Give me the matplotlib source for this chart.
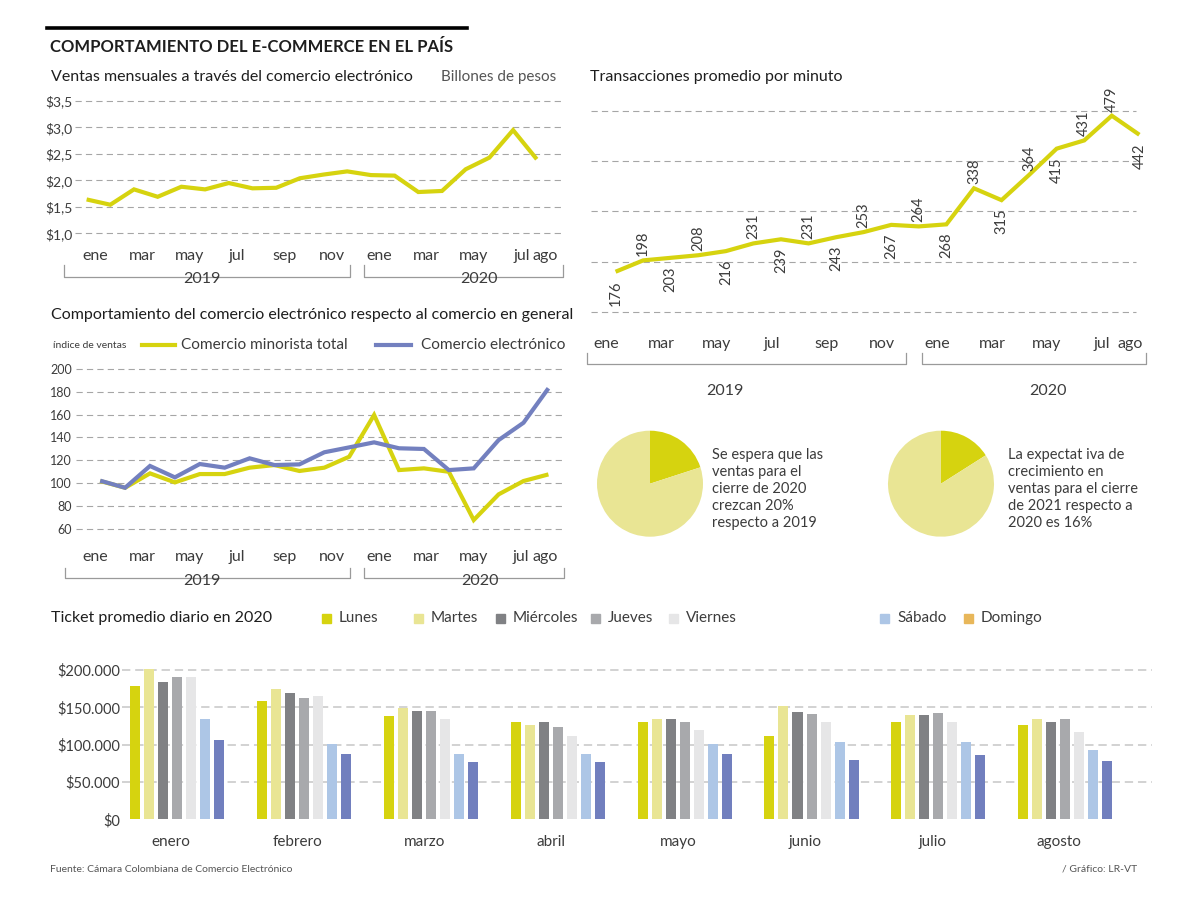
import numpy as np
import matplotlib

matplotlib.use("Agg")
import matplotlib.pyplot as plt
from matplotlib.lines import Line2D
from matplotlib.patches import Rectangle

W, H = 1200, 897

# ---------------- data ----------------
month_labels = ["ene", "mar", "may", "jul", "sep", "nov", "ene", "mar", "may", "jul", "ago"]
month_label_idx = [0, 2, 4, 6, 8, 10, 12, 14, 16, 18, 19]

# Ventas mensuales (billones de pesos), ene 2019 - ago 2020
ventas = [1.64, 1.54, 1.83, 1.69, 1.88, 1.83, 1.95, 1.85, 1.86, 2.04,
          2.11, 2.17, 2.10, 2.09, 1.78, 1.80, 2.21, 2.43, 2.95, 2.40]
ventas_ticks = [1.0, 1.5, 2.0, 2.5, 3.0, 3.5]

# Transacciones promedio por minuto
transacciones = [176, 198, 203, 208, 216, 231, 239, 231, 243, 253,
                 267, 264, 268, 338, 315, 364, 415, 431, 479, 442]
label_above = [False, True, False, True, False, True, False, True, False, True,
               False, True, False, True, False, True, False, True, True, False]

# Indice de ventas
minorista = [101.8, 95.9, 108.5, 100.6, 107.9, 107.9, 113.5, 115.8, 110.6, 113.5,
             123.1, 159.7, 111.4, 112.9, 109.9, 67.6, 90.1, 101.8, 107.6]
electronico = [102.1, 95.9, 115.0, 105.0, 116.7, 113.5, 121.7, 115.8, 116.4, 127.0,
               131.3, 135.7, 130.5, 129.9, 111.4, 112.9, 137.7, 152.9, 183.1]
indice_ticks = [60, 80, 100, 120, 140, 160, 180, 200]

# Expectativas (porcentaje)
pie_shares = [20, 16]
pie_texts = [
    "Se espera que las\nventas para el\ncierre de 2020\ncrezcan 20%\nrespecto a 2019",
    "La expectat iva de\ncrecimiento en\nventas para el cierre\nde 2021 respecto a\n2020 es 16%",
]

# Ticket promedio diario en 2020 (miles de pesos)
ticket_months = ["enero", "febrero", "marzo", "abril", "mayo", "junio", "julio", "agosto"]
dias = ["Lunes", "Martes", "Miércoles", "Jueves", "Viernes", "Sábado", "Domingo"]
lunes = [179, 158, 139, 131, 131, 112, 130, 126]
martes = [201, 174, 149, 126, 135, 152, 140, 134]
miercoles = [184, 169, 145, 131, 135, 144, 140, 130]
jueves = [191, 162, 145, 123, 131, 141, 143, 134]
viernes = [191, 165, 135, 111, 120, 131, 130, 117]
sabado = [134, 101, 88, 88, 101, 104, 103, 93]
domingo = [106, 88, 77, 77, 88, 79, 86, 78]
ticket_ticks = [0, 50000, 100000, 150000, 200000]

# ---------------- style ----------------
YELLOW = "#d6d30f"
PALE = "#e9e594"
BLUE = "#7380bf"
TXT = "#1e1e1e"
TICK = "#3c3c3c"
GRID = "#a6a6a6"
GRID4 = "#c6c6c6"
BRACKET = "#9a9a9a"
day_colors = [YELLOW, PALE, "#808184", "#a8a9ac", "#e6e6e7", "#adc6e6", "#717fbe"]
legend_colors = [YELLOW, PALE, "#808184", "#a8a9ac", "#e6e6e7", "#adc6e6", "#e8b75a"]
TITLE_SIZE = 11.5

plt.rcParams["font.family"] = ["Lato", "DejaVu Sans"]
plt.rcParams["lines.scale_dashes"] = False

fig = plt.figure(figsize=(W / 100, H / 100), dpi=100)


def box(left, top, right, bottom):
    ax = fig.add_axes([left / W, 1 - bottom / H, (right - left) / W, (bottom - top) / H])
    for s in ax.spines.values():
        s.set_visible(False)
    ax.set_facecolor("none")
    return ax


def ftext(x, y, s, **kw):
    kw.setdefault("va", "center")
    kw.setdefault("color", TXT)
    return fig.text(x / W, 1 - y / H, s, **kw)


def fline(xs, ys, **kw):
    fig.add_artist(Line2D([x / W for x in xs], [1 - y / H for y in ys],
                          transform=fig.transFigure, **kw))


def bracket(x0, x1, y_top, y_bot):
    fline([x0, x0, x1, x1], [y_top, y_bot, y_bot, y_top], color=BRACKET, lw=0.9)


def hgrid(ax, values, color=GRID, lw=0.8, dashes=(4.5, 3)):
    for v in values:
        ax.axhline(v, color=color, lw=lw, ls=(0, dashes), clip_on=False, zorder=0)


# ---------------- header ----------------
fline([47, 467], [28, 28], color="black", lw=2.6)
ftext(50, 47, "COMPORTAMIENTO DEL E-COMMERCE EN EL PAÍS", fontsize=12, weight="bold")

# ---------------- panel 1: ventas ----------------
ftext(51, 77, "Ventas mensuales a través del comercio electrónico", fontsize=TITLE_SIZE)
ftext(441, 77, "Billones de pesos", fontsize=11, color="#555555")
ax1 = box(75, 101, 563.3, 233.3)
ax1.plot(np.arange(len(ventas)), ventas, color=YELLOW, lw=3, clip_on=False,
         solid_joinstyle="miter", solid_capstyle="butt", zorder=3)
ax1.set_xlim(-0.49, 20.12)
ax1.set_ylim(ventas_ticks[0], ventas_ticks[-1])
hgrid(ax1, ventas_ticks)
ax1.set_yticks(ventas_ticks)
ax1.set_yticklabels([f"${v:.1f}".replace(".", ",") for v in ventas_ticks])
ax1.set_xticks(np.array(month_label_idx) + 0.35)
ax1.set_xticklabels(month_labels)
ax1.tick_params(axis="y", length=0, pad=1.5, labelsize=10, labelcolor=TICK)
ax1.tick_params(axis="x", length=0, pad=11.5, labelsize=11.5, labelcolor=TICK)
bracket(64.3, 349.7, 265, 277.3)
bracket(364, 563.3, 265, 277.3)
ftext(202, 279, "2019", ha="center", fontsize=11.5, color=TICK)
ftext(479, 279, "2020", ha="center", fontsize=11.5, color=TICK)

# ---------------- panel 2: transacciones ----------------
ftext(590, 77, "Transacciones promedio por minuto", fontsize=TITLE_SIZE)
ax2 = box(591, 110.7, 1135.5, 312.3)
x2 = np.arange(len(transacciones))
ax2.plot(x2, transacciones, color=YELLOW, lw=3, clip_on=False,
         solid_joinstyle="miter", solid_capstyle="butt", zorder=3)
ax2.set_xlim(-0.892, 18.86)
ax2.set_ylim(97.2, 488.7)
hgrid(ax2, np.linspace(97.2, 488.7, 5))
ax2.set_yticks([])
for xi, v, up in zip(x2, transacciones, label_above):
    ax2.annotate(str(v), (xi, v), xytext=(0, 3 if up else -6), textcoords="offset points",
                 rotation=90, ha="center", va="bottom" if up else "top",
                 fontsize=10.5, color=TICK, annotation_clip=False)
ax2.set_xticks(np.array(month_label_idx) - 0.35)
ax2.set_xticklabels(month_labels)
ax2.tick_params(axis="x", length=0, pad=18, labelsize=11.5, labelcolor=TICK)
bracket(586.5, 905.7, 352.7, 364)
bracket(921.8, 1145.9, 352.7, 364)
ftext(725, 391, "2019", ha="center", fontsize=11.5, color=TICK)
ftext(1048, 391, "2020", ha="center", fontsize=11.5, color=TICK)

# ---------------- panel 3: indice ----------------
ftext(51, 315, "Comportamiento del comercio electrónico respecto al comercio en general",
      fontsize=TITLE_SIZE)
ftext(53, 345, "índice de ventas", fontsize=7.5, color=TICK)
fline([141.7, 174.5], [345, 345], color=YELLOW, lw=3)
ftext(181.4, 345, "Comercio minorista total", fontsize=11.1, color=TICK)
fline([376, 410.7], [345, 345], color=BLUE, lw=3)
ftext(421, 345, "Comercio electrónico", fontsize=11.1, color=TICK)

ax3 = box(76.2, 369, 562.4, 528.7)
x3 = np.linspace(0.57, 19.5, len(minorista))
ax3.plot(x3, minorista, color=YELLOW, lw=3, clip_on=False,
         solid_joinstyle="miter", solid_capstyle="butt", zorder=3)
ax3.plot(x3, electronico, color=BLUE, lw=3, clip_on=False,
         solid_joinstyle="miter", solid_capstyle="butt", zorder=4)
ax3.set_xlim(-0.443, 20.09)
ax3.set_ylim(indice_ticks[0], indice_ticks[-1])
hgrid(ax3, indice_ticks)
ax3.set_yticks(indice_ticks)
ax3.set_xticks(np.array(month_label_idx) + 0.35)
ax3.set_xticklabels(month_labels)
ax3.tick_params(axis="y", length=0, pad=3, labelsize=9, labelcolor=TICK)
ax3.tick_params(axis="x", length=0, pad=15.5, labelsize=11.5, labelcolor=TICK)
bracket(64.8, 349.7, 568.3, 578.3)
bracket(364, 564, 568.3, 578.3)
ftext(202, 581, "2019", ha="center", fontsize=11.5, color=TICK)
ftext(480, 581, "2020", ha="center", fontsize=11.5, color=TICK)

# ---------------- pies ----------------
for (cx, tx), share, text in zip([(650, 712), (941, 1008)], pie_shares, pie_texts):
    axp = box(cx - 53, 430.7, cx + 53, 536.7)
    axp.pie([share, 100 - share], colors=[YELLOW, PALE], startangle=90,
            counterclock=False, radius=1)
    axp.set_xlim(-1, 1)
    axp.set_ylim(-1, 1)
    ftext(tx, 447.5, text, va="top", fontsize=10.5, color=TICK, linespacing=1.28)

# ---------------- panel 4: ticket ----------------
ftext(51, 618, "Ticket promedio diario en 2020", fontsize=TITLE_SIZE)
legend_x = [322, 414, 496, 591, 669, 880, 964]
for lx, name, col in zip(legend_x, dias, legend_colors):
    fig.add_artist(Rectangle((lx / W, 1 - 622.5 / H), 9 / W, 9 / H,
                             transform=fig.transFigure, color=col))
    ftext(lx + 17, 618, name, fontsize=11, color=TICK)

ax4 = box(122, 670, 1152, 819.3)
groups = np.arange(len(ticket_months))
pitch = 14 / 126.9
width = 10 / 126.9
for k, (vals, col) in enumerate(zip([lunes, martes, miercoles, jueves, viernes, sabado, domingo],
                                    day_colors)):
    ax4.bar(groups + (k - 3) * pitch, np.array(vals) * 1000, width=width, color=col,
            zorder=3, clip_on=False)
ax4.set_xlim(-0.433, 7.683)
ax4.set_ylim(ticket_ticks[0], ticket_ticks[-1])
hgrid(ax4, ticket_ticks[1:], color=GRID4, lw=1.1, dashes=(6, 3.5))
ax4.set_yticks(ticket_ticks)
ax4.set_yticklabels([f"${v:,.0f}".replace(",", ".") for v in ticket_ticks])
ax4.set_xticks(groups - 0.05)
ax4.set_xticklabels(ticket_months)
ax4.tick_params(axis="y", length=0, pad=1.5, labelsize=10.5, labelcolor=TICK)
ax4.tick_params(axis="x", length=0, pad=11, labelsize=11, labelcolor=TICK)

# ---------------- footer ----------------
ftext(50, 869, "Fuente: Cámara Colombiana de Comercio Electrónico", fontsize=7.5, color="#555555")
ftext(1062, 869, "/ Gráfico: LR-VT", fontsize=7.5, color="#555555")

fig.savefig("out.png", dpi=100)
